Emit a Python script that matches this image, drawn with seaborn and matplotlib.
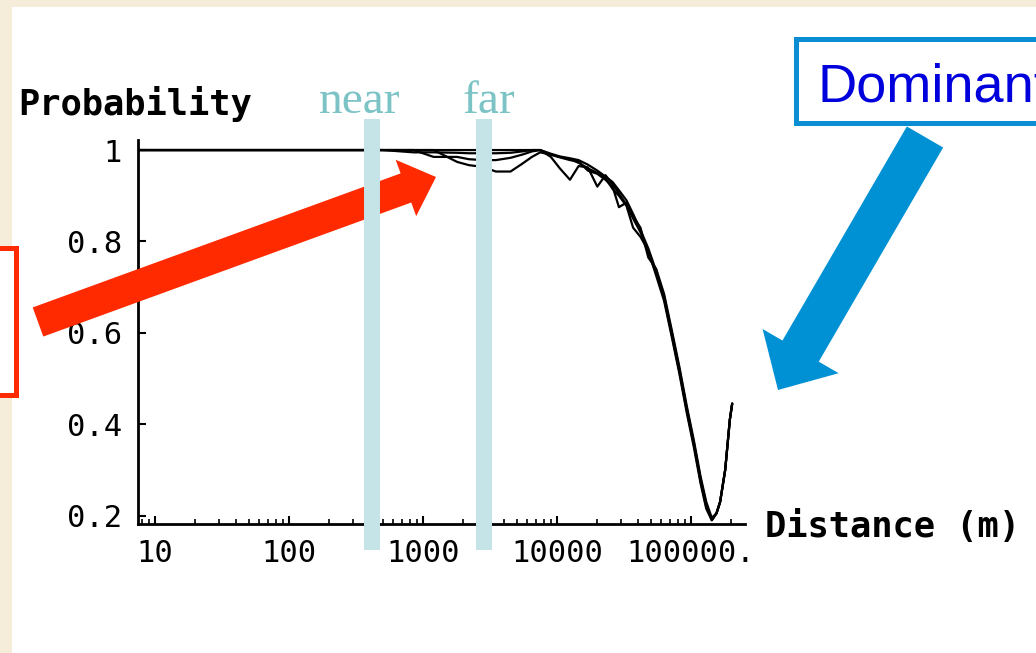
import numpy as np
import pandas as pd
import matplotlib
matplotlib.use("Agg")
import matplotlib.pyplot as plt
import seaborn as sns
from matplotlib.patches import Rectangle, Polygon
from matplotlib.ticker import LogLocator, NullFormatter

# ---------------- data ----------------
distance = [7.5, 50, 200, 500, 850, 1200, 1800, 2200, 2800, 3500, 4500, 5500, 6500, 7500,
            9000, 10500, 12500, 14500, 17000, 20000, 23000, 26000, 29000, 33000, 37000,
            42000, 48000, 55000, 63000, 72000, 82000, 93000, 105000, 118000, 130000,
            143000, 155000, 165000, 180000, 195000, 203000]

curve_1 = [1, 1, 1, 1, 1, 1, 1, 1, 1, 1, 1, 1, 1, 1,
           0.992, 0.986, 0.982, 0.978, 0.968, 0.955, 0.942, 0.93, 0.912, 0.89, 0.86,
           0.825, 0.785, 0.735, 0.68, 0.60, 0.52, 0.435, 0.36, 0.28, 0.225,
           0.19, 0.205, 0.23, 0.30, 0.41, 0.445]
curve_2 = [1, 1, 1, 1, 0.995, 0.995, 0.994, 0.993, 0.993, 0.993, 0.994, 0.997, 1, 1,
           0.985, 0.96, 0.935, 0.965, 0.962, 0.92, 0.945, 0.925, 0.905, 0.88, 0.85,
           0.82, 0.775, 0.73, 0.675, 0.595, 0.515, 0.43, 0.355, 0.275, 0.22,
           0.19, 0.205, 0.23, 0.30, 0.41, 0.445]
curve_3 = [1, 1, 1, 1, 1, 0.985, 0.985, 0.98, 0.978, 0.978, 0.983, 0.99, 0.997, 1,
           0.99, 0.984, 0.978, 0.975, 0.955, 0.948, 0.935, 0.92, 0.875, 0.885, 0.855,
           0.83, 0.765, 0.74, 0.685, 0.605, 0.525, 0.44, 0.365, 0.285, 0.23,
           0.195, 0.205, 0.23, 0.30, 0.41, 0.445]
curve_4 = [1, 1, 1, 1, 1, 1, 0.974, 0.967, 0.963, 0.953, 0.953, 0.97, 0.985, 0.995,
           0.99, 0.985, 0.98, 0.972, 0.96, 0.95, 0.938, 0.915, 0.9, 0.878, 0.83,
           0.81, 0.78, 0.725, 0.67, 0.59, 0.51, 0.425, 0.35, 0.27, 0.215,
           0.19, 0.205, 0.23, 0.30, 0.41, 0.445]

x_ticks = [10, 100, 1000, 10000, 100000]
x_tick_labels = ["10", "100", "1000", "10000", "100000."]
y_ticks = [0.2, 0.4, 0.6, 0.8, 1.0]
y_tick_labels = ["0.2", "0.4", "0.6", "0.8", "1"]
near_x, far_x = 415, 2850

df = pd.concat([
    pd.DataFrame({"distance": distance, "prob": c, "curve": name})
    for name, c in [("c1", curve_1), ("c2", curve_2), ("c3", curve_3), ("c4", curve_4)]
])

# ---------------- figure ----------------
W, H = 1036, 653
sns.set_style("white")
plt.rcParams["text.color"] = "black"
plt.rcParams["xtick.color"] = "black"
plt.rcParams["ytick.color"] = "black"
fig = plt.figure(figsize=(W / 100, H / 100), dpi=100)
fig.patch.set_facecolor("white")

def fx(px):
    return px / W

def fy(py):
    return 1 - py / H

BEIGE = "#f5ecda"
fig.patches.append(Rectangle((0, 0), fx(12), 1, transform=fig.transFigure,
                             facecolor=BEIGE, edgecolor="none", zorder=-2))
fig.patches.append(Rectangle((0, fy(7)), 1, 7 / H, transform=fig.transFigure,
                             facecolor=BEIGE, edgecolor="none", zorder=-2))

ax = fig.add_axes([fx(138), fy(524), (745 - 138) / W, (524 - 140) / H])
ax.patch.set_alpha(0)
ax.set_xscale("log")

sns.lineplot(data=df, x="distance", y="prob", units="curve", estimator=None,
             color="black", linewidth=1.6, ax=ax, legend=False, zorder=2)

ax.set_xlim(7.47, 253000)
ax.set_ylim(0.1816, 1.022)
ax.set_xlabel("")
ax.set_ylabel("")
for s in ["top", "right"]:
    ax.spines[s].set_visible(False)
for s in ["left", "bottom"]:
    ax.spines[s].set_linewidth(2)
    ax.spines[s].set_color("black")

mono = "DejaVu Sans Mono"
ax.set_xticks(x_ticks)
ax.set_xticklabels(x_tick_labels, fontfamily=mono, fontsize=22, color="black")
ax.xaxis.set_minor_locator(LogLocator(base=10, subs=np.arange(2, 10)))
ax.xaxis.set_minor_formatter(NullFormatter())
ax.set_yticks(y_ticks)
ax.set_yticklabels(y_tick_labels, fontfamily=mono, fontsize=22, color="black")
ax.tick_params(axis="x", which="both", bottom=True, top=False)
ax.tick_params(axis="y", which="both", left=True, right=False)
ax.tick_params(axis="x", which="major", direction="in", length=6, width=1.5, pad=11, color="black")
ax.tick_params(axis="x", which="minor", direction="in", length=3.5, width=1.2, color="black")
ax.tick_params(axis="y", which="major", direction="in", length=6, width=1.5, pad=11.5, color="black")

fig.text(fx(18), fy(115), "Probability", fontfamily=mono, fontweight="bold",
         fontsize=25.5, va="baseline", ha="left", color="black")
fig.text(fx(765), fy(537), "Distance (m)", fontfamily=mono, fontweight="bold",
         fontsize=25.5, va="baseline", ha="left", color="black")

# near / far bars and labels
bar_col = "#c4e4e7"
for xv in (near_x, far_x):
    ax.axvline(xv, ymin=(524 - 550) / 384, ymax=(524 - 119) / 384, color=bar_col,
               linewidth=11.5, clip_on=False, zorder=4, solid_capstyle="butt")
txt_col = "#7cc3c6"
fig.text(fx(360), fy(113), "near", fontfamily="Liberation Serif", fontsize=34,
         color=txt_col, ha="center", va="baseline")
fig.text(fx(489), fy(113), "far", fontfamily="Liberation Serif", fontsize=34,
         color=txt_col, ha="center", va="baseline")


def arrow_pts(tail, tip, w, hw, hl):
    t = np.array(tail, float)
    p = np.array(tip, float)
    d = p - t
    u = d / np.hypot(*d)
    n = np.array([-u[1], u[0]])
    b = p - u * hl
    pts = [t + n * w / 2, b + n * w / 2, b + n * hw / 2, p,
           b - n * hw / 2, b - n * w / 2, t - n * w / 2]
    return [(fx(q[0]), fy(q[1])) for q in pts]

# red arrow (between curves and bars)
ax.add_patch(Polygon(arrow_pts((38, 322), (436, 177), 31, 60, 32), closed=True,
                     transform=fig.transFigure, clip_on=False, facecolor="#ff2a00",
                     edgecolor="none", zorder=3))

# blue arrow
fig.patches.append(Polygon(arrow_pts((925, 137), (778, 390), 42, 88, 45), closed=True,
                           transform=fig.transFigure, facecolor="#0091d5",
                           edgecolor="none", zorder=5))

# Dominant box
fig.patches.append(Rectangle((fx(795.5), fy(122.5)), fx(400), (122.5 - 38.5) / H,
                             transform=fig.transFigure, facecolor="white",
                             edgecolor="#0a8dd2", linewidth=3.6, zorder=5))
fig.text(fx(818), fy(102), "Dominant", fontfamily="Liberation Sans", fontsize=39,
         color="#0000dd", ha="left", va="baseline", zorder=6)

# red box on the left
fig.patches.append(Rectangle((fx(-50), fy(394.5)), fx(65.5), (394.5 - 247.5) / H,
                             transform=fig.transFigure, facecolor="white",
                             edgecolor="#ff2a00", linewidth=3.6, zorder=1))

fig.savefig("out.png", dpi=100)
